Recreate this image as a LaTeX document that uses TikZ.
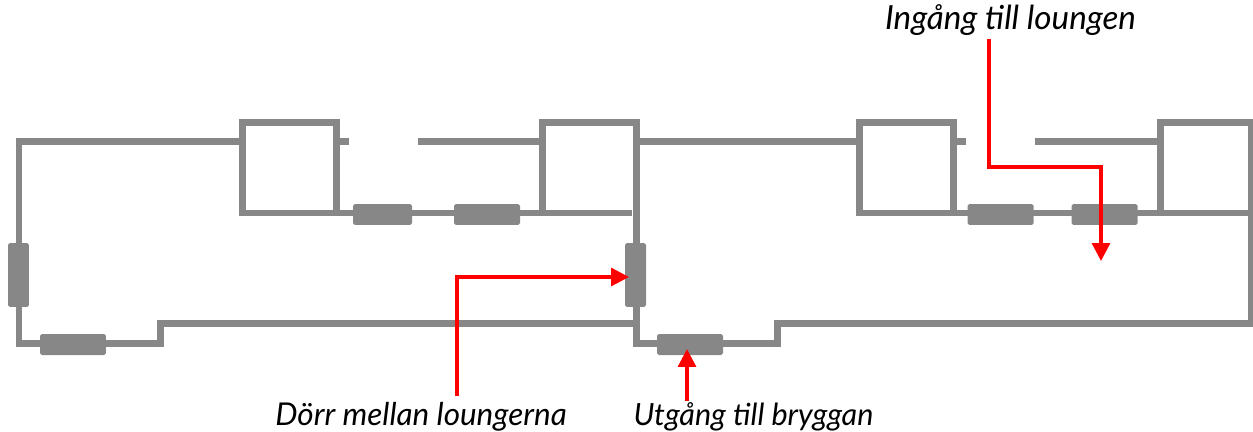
\documentclass[tikz,border=0pt]{standalone}
\usepackage{fontspec}
\setmainfont{Lato}
\usetikzlibrary{arrows.meta}
\definecolor{wallgray}{HTML}{878787}
\tikzset{
    wall/.style={draw=wallgray, line width=0.14cm, line cap=butt, miter limit=10},
    doorh/.style={fill=wallgray, inner sep=0pt, rounded corners=1pt, minimum width=1.32cm, minimum height=0.42cm},
    doorv/.style={fill=wallgray, inner sep=0pt, rounded corners=1pt, minimum width=0.42cm, minimum height=1.28cm},
    pointer/.style={draw=red, line width=0.065cm, -{Triangle[length=0.36cm, width=0.36cm]}},
    caption/.style={inner sep=0pt, anchor=base, font=\fontsize{#1}{22pt}\selectfont\itshape}
}
\begin{document}
\begin{tikzpicture}[x=0.02cm, y=-0.02cm]
    \useasboundingbox (0, 0) rectangle (1253, 432);
    % outer walls, first lounge
    \draw[wall] (349, 141.7) -- (336, 141.7);
    \draw[wall] (242, 141.7) -- (19, 141.7) -- (19, 343) -- (160, 343) -- (160, 323) -- (636, 323);
    \draw[wall] (242, 213) rectangle (336, 123);
    \draw[wall] (336, 213) -- (632, 213);
    \draw[wall] (418, 141.7) -- (542, 141.7);
    \draw[wall] (542, 213) -- (542, 123) -- (636, 123) -- (636, 343) -- (777, 343) -- (777, 323) -- (1251, 323) -- (1251, 123) -- (1160, 123) -- (1160, 213);
    % second lounge
    \draw[wall] (636, 141.7) -- (859, 141.7);
    \draw[wall] (859, 213) rectangle (953, 123);
    \draw[wall] (953, 141.7) -- (966, 141.7);
    \draw[wall] (1035, 141.7) -- (1160, 141.7);
    \draw[wall] (953, 213) -- (1251, 213);
    % doors
    \node[doorv] (doorwest) at (18.5, 275) {};
    \node[doorh] (doorsouthone) at (73, 344.5) {};
    \node[doorh, minimum width=1.18cm] (doornorthone) at (382.5, 214.5) {};
    \node[doorh] (doornorthtwo) at (487, 214.5) {};
    \node[doorv] (doormiddle) at (635.5, 275) {};
    \node[doorh] (doorsouthtwo) at (690, 344.5) {};
    \node[doorh] (doornorththree) at (1000.5, 214.5) {};
    \node[doorh] (doornorthfour) at (1104.5, 214.5) {};
    % labels
    \node[caption=18.9pt] (entrylabel) at (1010.5, 30) {Ingång till loungen};
    \node[caption=17.9pt] (middlelabel) at (421, 425) {Dörr mellan loungerna};
    \node[caption=17.4pt] (exitlabel) at (753.5, 425) {Utgång till bryggan};
    % pointers
    \coordinate (entrystart) at (989, 39);
    \coordinate (entrytip) at (1101, 261);
    \coordinate (middlestart) at (457, 396);
    \coordinate (middletip) at (629, 277);
    \coordinate (exitstart) at (687, 401);
    \coordinate (exittip) at (687, 349);
    \draw[pointer] (entrystart) |- (1101, 167) -- (entrytip);
    \draw[pointer] (middlestart) |- (middletip);
    \draw[pointer] (exitstart) -- (exittip);
\end{tikzpicture}
\end{document}
